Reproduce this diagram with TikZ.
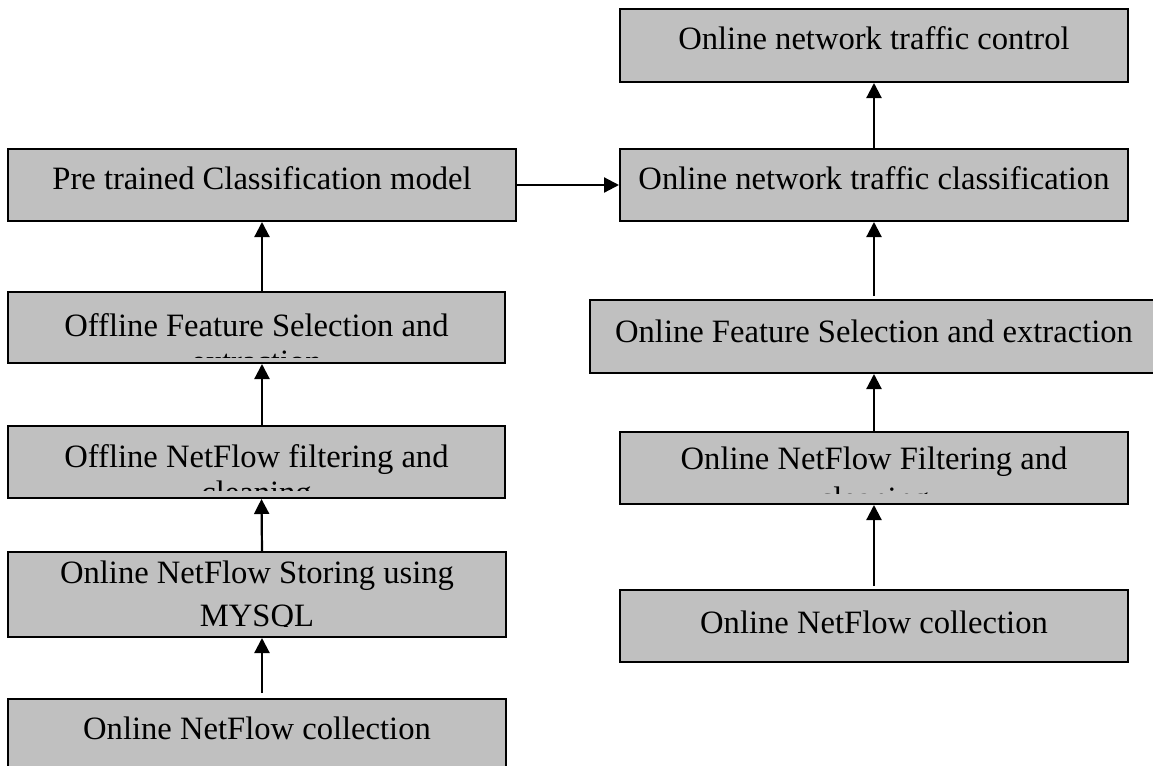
\documentclass[tikz,border=0pt]{standalone}
\usepackage{fontspec}
\setmainfont{Liberation Serif}
\usetikzlibrary{arrows.meta}
\definecolor{boxgray}{RGB}{192,192,192}
\tikzset{
  stepbox/.style={draw=black, fill=boxgray, line width=1pt, inner sep=0pt},
  boxtext/.style={anchor=north, inner sep=0pt, align=center, font=\fontsize{16.3pt}{18pt}\selectfont},
  arr/.style={line width=1.1pt, -{Triangle[length=7.5pt,width=7.5pt]}}
}
% #1 name, #2 x1, #3 y1, #4 x2, #5 y2, #6 first baseline, #7 text, #8 clip bottom
\newcommand\mkbox[8]{%
  \node[stepbox, minimum width={(#4-#2)*0.5pt}, minimum height={(#5-#3)*0.5pt}] (#1) at ({(#2+#4)/2},{(#3+#5)/2}) {};
  \begin{scope}
    \clip (#2,#3) rectangle (#4,#8);
    \node[boxtext] (#1-t) at ({(#2+#4)/2},{#6-26.6}) {\strut #7};
  \end{scope}}
\begin{document}
\begin{tikzpicture}[x=0.5pt,y=-0.5pt]
\useasboundingbox (0,0) rectangle (1153,766);
\fill[white] (0,0) rectangle (1153,766);

\mkbox{ctl}{620}{9}{1128}{82}{50}{Online network traffic control}{78}
\mkbox{cls}{620}{149}{1128}{221}{190}{Online network traffic classification}{217}
\mkbox{pre}{8}{149}{516}{221}{190}{Pre trained Classification model}{217}
\mkbox{ofs}{8}{292}{505}{363}{337}{Offline Feature Selection and\\extraction}{357}
\mkbox{flt}{8}{426}{505}{498}{468}{Offline NetFlow filtering and\\cleaning}{490}
\mkbox{sto}{8}{552}{506}{637}{584}{Online NetFlow Storing using\\[3.5pt]MYSQL}{626}
\mkbox{col}{8}{699}{506}{778}{740}{Online NetFlow collection}{772}
\mkbox{rfs}{590}{300}{1158}{373}{343}{Online Feature Selection and extraction}{369}
\mkbox{rflt}{620}{432}{1128}{504}{470}{Online NetFlow Filtering and\\[2pt]cleaning}{493}
\mkbox{rcol}{620}{590}{1128}{662}{634}{Online NetFlow collection}{658}

% left column
\draw[arr] (pre.east) -- (cls.west);
\draw[arr] (ofs.north -| pre.south) -- (pre.south);
\draw[arr] ([xshift=2.75pt]flt.north) -- ([xshift=2.75pt]ofs.south);
\draw[arr] ([xshift=2.5pt]sto.north) -- ([xshift=2.5pt]flt.south);
\draw[arr, shorten <=2.5pt] ([xshift=2.5pt]col.north) -- ([xshift=2.5pt]sto.south);
% right column
\draw[arr, shorten <=1.5pt] (rcol.north) -- (rflt.south);
\draw[arr] (rflt.north) -- (rflt.north |- rfs.south);
\draw[arr, shorten <=1.5pt] (rfs.north) -- (rfs.north |- cls.south);
\draw[arr] (cls.north) -- (ctl.south);
\end{tikzpicture}
\end{document}
